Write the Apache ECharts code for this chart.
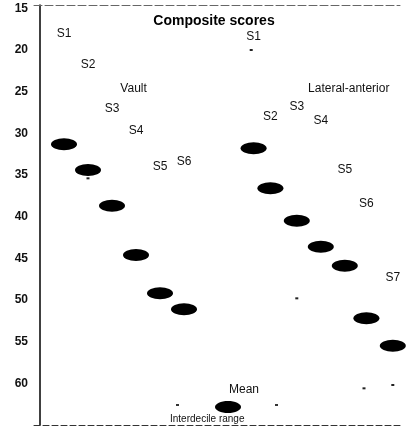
<!DOCTYPE html>
<html>
<head>
<meta charset="utf-8">
<script src="https://cdn.jsdelivr.net/npm/echarts@6/dist/echarts.min.js"></script>
<style>
    html, body { margin: 0; padding: 0; background: #fff; }
    #chart { width: 409px; height: 428px; }
</style>
</head>
<body>
<div id="chart"></div>
<script>
// composite scores, vault group
var vaultNames = ['S1', 'S2', 'S3', 'S4', 'S5', 'S6'];
var vaultPos = [1, 2, 3, 4, 5, 6];
var vaultMean = [31.3, 34.4, 38.7, 44.6, 49.2, 51.1];
var vaultUpper = [18.0, 21.8, 27.0, 29.7, 34.0, 33.4];

// lateral-anterior group
var latNames = ['S1', 'S2', 'S3', 'S4', 'S5', 'S6', 'S7'];
var latPos = [8.9, 9.6, 10.7, 11.7, 12.7, 13.6, 14.7];
var latMean = [31.8, 36.6, 40.5, 43.6, 45.9, 52.2, 55.5];
var latUpper = [18.4, 28.0, 26.8, 28.5, 34.4, 38.5, 47.3];

// what is left of the interdecile range lines in the scan
var rangeTraces = [[2, 35.4], [8.8, 20], [10.7, 49.8], [13.5, 60.6], [14.7, 60.2]];

var groupNames = ['Vault', 'Lateral-anterior'];
var groupPos = [[3.9, 24.6], [11.17, 24.7]];

var yTicks = [15, 20, 25, 30, 35, 40, 45, 50, 55, 60];

var ellipse = 'path://M0,6A13,6,0,1,0,26,6A13,6,0,1,0,0,6Z';
var font = 'Liberation Sans, Arial, sans-serif';

function points(pos, vals, names) {
    return pos.map(function (p, i) {
        return { value: [p, vals[i]], name: names ? names[i] : '' };
    });
}

var textLabel = {
    show: true,
    position: 'inside',
    formatter: '{b}',
    fontFamily: font,
    fontSize: 12,
    color: '#111'
};

var chart = echarts.init(document.getElementById('chart'));

var option = {
    animation: false,
    grid: { left: 34, right: 9, top: 5, bottom: 3 },
    title: {
        text: 'Composite scores',
        left: 209,
        top: 9,
        textAlign: 'center',
        textStyle: { fontFamily: font, fontSize: 14, fontWeight: 'bold', color: '#000' }
    },
    xAxis: [{
        type: 'value',
        min: -0.25,
        max: 15,
        position: 'bottom',
        axisLine: { onZero: false, lineStyle: { color: '#333', type: [6, 3], width: 1 } },
        axisTick: { show: false },
        axisLabel: { show: false },
        splitLine: { show: false }
    }, {
        type: 'value',
        min: -0.25,
        max: 15,
        position: 'top',
        axisLine: { onZero: false, lineStyle: { color: '#666', type: [8, 3], width: 1 } },
        axisTick: { show: false },
        axisLabel: { show: false },
        splitLine: { show: false }
    }],
    yAxis: {
        type: 'value',
        inverse: true,
        min: 14.6,
        max: 65,
        axisLine: { show: true, lineStyle: { color: '#000', width: 1.5 } },
        axisTick: { show: false },
        splitLine: { show: false },
        axisLabel: {
            customValues: yTicks,
            margin: 6,
            fontFamily: font,
            fontSize: 12,
            fontWeight: 'bold',
            color: '#111'
        }
    },
    series: [{
        name: 'Vault mean',
        type: 'scatter',
        symbol: ellipse,
        symbolSize: [26, 12],
        itemStyle: { color: '#000', opacity: 1 },
        data: points(vaultPos, vaultMean)
    }, {
        name: 'Lateral mean',
        type: 'scatter',
        symbol: ellipse,
        symbolSize: [26, 12],
        itemStyle: { color: '#000', opacity: 1 },
        data: points(latPos, latMean)
    }, {
        name: 'Interdecile top',
        type: 'scatter',
        symbolSize: 2,
        itemStyle: { color: 'rgba(0,0,0,0)', opacity: 1 },
        label: textLabel,
        data: points(vaultPos, vaultUpper, vaultNames).concat(points(latPos, latUpper, latNames))
    }, {
        name: 'Interdecile traces',
        type: 'scatter',
        symbol: 'rect',
        symbolSize: [3, 2],
        itemStyle: { color: '#222', opacity: 1 },
        data: rangeTraces
    }, {
        name: 'Groups',
        type: 'scatter',
        symbolSize: 2,
        itemStyle: { color: 'rgba(0,0,0,0)', opacity: 1 },
        label: textLabel,
        data: [
            { value: groupPos[0], name: groupNames[0] },
            { value: groupPos[1], name: groupNames[1], label: { align: 'left' } }
        ]
    }],
    graphic: [
        { type: 'text', left: 229, top: 384, style: { text: 'Mean', fontFamily: font, fontSize: 12, fill: '#111', textAlign: 'center' } },
        { type: 'ellipse', shape: { cx: 228, cy: 407, rx: 13, ry: 6 }, style: { fill: '#000' } },
        { type: 'rect', shape: { x: 176, y: 404, width: 3, height: 2 }, style: { fill: '#333' } },
        { type: 'rect', shape: { x: 275, y: 404, width: 3, height: 2 }, style: { fill: '#333' } },
        { type: 'text', left: 170, top: 414, style: { text: 'Interdecile range', fontFamily: font, fontSize: 10, fill: '#111' } }
    ]
};

chart.setOption(option);
</script>
</body>
</html>
